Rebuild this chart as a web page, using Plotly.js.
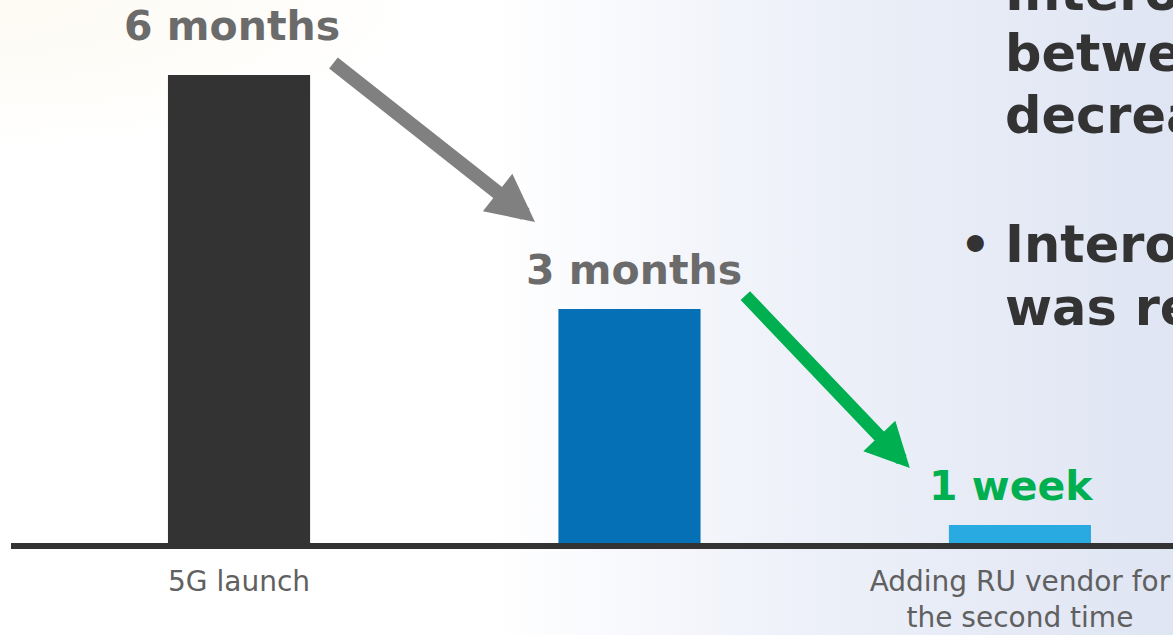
<!DOCTYPE html>
<html><head><meta charset="utf-8">
<script src="https://cdn.plot.ly/plotly-3.0.1.min.js"></script>
<style>
html,body{margin:0;padding:0;width:1173px;height:635px;overflow:hidden;}
body{background:
  radial-gradient(ellipse 430px 150px at 0% 0%, rgba(253,250,242,1) 0%, rgba(255,255,255,0) 100%),
  linear-gradient(to right, #ffffff 0%, #ffffff 42%, #eef1f9 68%, #dfe5f3 100%);}
#chart{width:1173px;height:635px;}
</style></head><body><div id="chart"></div>
<script>
const categories = ["5G launch", "", "Adding RU vendor for<br>the second time"];
const durationMonths = [6, 3, 0.23];
const valueLabels = ["6 months", "3 months", "1 week"];
const barColors = ["#333333", "#0570b6", "#29abe2"];
const labelColors = ["#6b6b6b", "#6b6b6b", "#00b050"];
const sideLines = ["Interoperability", "between", "decreased", "Interoperability", "was reduced"];

const xIdx = categories.map((c, i) => i);

const trace = {
  type: "bar",
  x: xIdx,
  y: durationMonths,
  marker: {color: barColors},
  hoverinfo: "skip"
};

const annotations = [];
const labelShift = [[-7, 49], [5, 39], [-8, 39]];
valueLabels.forEach((t, i) => {
  annotations.push({
    x: xIdx[i], y: durationMonths[i], xref: "x", yref: "y",
    text: "<b>" + t + "</b>", showarrow: false,
    xanchor: "center", yanchor: "middle",
    xshift: labelShift[i][0], yshift: labelShift[i][1],
    font: {family: "DejaVu Sans", size: 41, color: labelColors[i]}
  });
});

// arrows
annotations.push({
  x: 0.758, y: 4.115, ax: 0.238, ay: 6.167, xref: "x", yref: "y", axref: "x", ayref: "y",
  text: "", showarrow: true, arrowhead: 2, arrowsize: 0.68, arrowwidth: 14,
  arrowcolor: "#808080", standoff: 0
});
annotations.push({
  x: 1.718, y: 0.962, ax: 1.293, ay: 3.19, xref: "x", yref: "y", axref: "x", ayref: "y",
  text: "", showarrow: true, arrowhead: 2, arrowsize: 0.68, arrowwidth: 13,
  arrowcolor: "#00b050", standoff: 0
});

// side text
const sideY = [1.013, 0.9006, 0.788, 0.5506, 0.4346];
sideLines.forEach((t, i) => {
  annotations.push({
    x: 0.8535, y: sideY[i], xref: "paper", yref: "paper",
    text: "<b>" + t + "</b>", showarrow: false,
    xanchor: "left", yanchor: "middle",
    font: {family: "DejaVu Sans", size: 51, color: "#333333"}
  });
});
annotations.push({
  x: 0.830, y: 0.5506, xref: "paper", yref: "paper",
  text: "<b>•</b>", showarrow: false, xanchor: "center", yanchor: "middle",
  font: {family: "DejaVu Sans", size: 48, color: "#333333"}
});

const layout = {
  width: 1173, height: 635,
  margin: {l: 11, r: 0, t: 0, b: 92, pad: 0},
  paper_bgcolor: "rgba(0,0,0,0)",
  plot_bgcolor: "rgba(0,0,0,0)",
  bargap: 0.636,
  showlegend: false,
  hovermode: false,
  xaxis: {
    range: [-0.584, 2.392],
    tickvals: xIdx, ticktext: categories,
    showline: true, linewidth: 6, linecolor: "#333333",
    ticks: "", showgrid: false, zeroline: false,
    ticklabelstandoff: 8,
    tickfont: {family: "DejaVu Sans", size: 28, color: "#606060"},
    fixedrange: true
  },
  yaxis: {
    range: [0, 6.96], visible: false, showgrid: false, zeroline: false, fixedrange: true
  },
  annotations: annotations
};

Plotly.newPlot("chart", [trace], layout, {displayModeBar: false, staticPlot: true});
</script>
</body></html>
